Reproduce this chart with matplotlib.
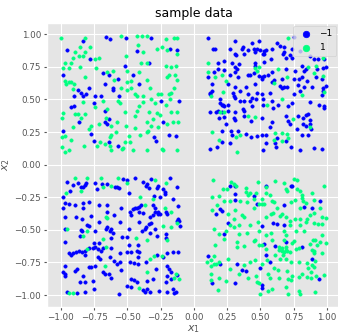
import numpy as np
import matplotlib
matplotlib.use("Agg")
import matplotlib.pyplot as plt

# points, grouped by quadrant and by label
# label -1 (blue) / label 1 (green)
tl_neg = [(-0.83, 0.95), (-0.66, 0.98), (-0.63, 0.96), (-0.51, 0.97), (-0.32, 0.97),
          (-0.95, 0.88), (-0.43, 0.87), (-0.18, 0.885), (-0.125, 0.88), (-0.78, 0.81),
          (-0.335, 0.78), (-0.52, 0.76), (-0.985, 0.69), (-0.68, 0.70), (-0.635, 0.69),
          (-0.57, 0.66), (-0.46, 0.69), (-0.67, 0.62), (-0.415, 0.62), (-0.87, 0.57),
          (-0.785, 0.59), (-0.85, 0.55), (-0.90, 0.53), (-0.81, 0.54), (-0.835, 0.53),
          (-0.74, 0.53), (-0.70, 0.53), (-0.605, 0.59), (-0.61, 0.57), (-0.56, 0.53),
          (-0.75, 0.47), (-0.25, 0.49), (-0.11, 0.49), (-0.925, 0.44), (-0.90, 0.45),
          (-0.86, 0.33), (-0.665, 0.41), (-0.67, 0.33), (-0.635, 0.35), (-0.65, 0.31),
          (-0.235, 0.33), (-0.985, 0.255), (-0.775, 0.235), (-0.30, 0.21), (-0.285, 0.18),
          (-0.185, 0.23), (-0.135, 0.22), (-0.75, 0.185), (-0.64, 0.175), (-0.57, 0.145)]
tl_pos = [(-1.0, 0.97), (-0.82, 0.97), (-0.545, 0.99), (-0.43, 0.99), (-0.39, 0.99),
          (-0.35, 0.99), (-0.21, 0.96), (-0.15, 0.97), (-0.125, 0.97), (-0.89, 0.86),
          (-0.855, 0.90), (-0.82, 0.86), (-0.78, 0.905), (-0.835, 0.83), (-0.42, 0.92),
          (-0.38, 0.86), (-0.51, 0.83), (-0.275, 0.89), (-0.24, 0.90), (-0.205, 0.88),
          (-0.13, 0.85), (-0.97, 0.78), (-0.98, 0.74), (-0.94, 0.74), (-0.92, 0.78),
          (-0.905, 0.82), (-0.86, 0.83), (-0.855, 0.75), (-0.74, 0.81), (-0.71, 0.82),
          (-0.735, 0.74), (-0.40, 0.78), (-0.355, 0.78), (-0.505, 0.72), (-0.21, 0.76),
          (-0.17, 0.75), (-0.135, 0.76), (-0.82, 0.67), (-0.61, 0.72), (-0.655, 0.71),
          (-0.41, 0.71), (-0.205, 0.67), (-0.19, 0.69), (-0.14, 0.69), (-0.125, 0.65),
          (-0.97, 0.64), (-0.96, 0.615), (-0.935, 0.63), (-0.92, 0.63), (-0.90, 0.62),
          (-0.60, 0.65), (-0.505, 0.63), (-0.47, 0.64), (-0.355, 0.65), (-0.905, 0.58),
          (-0.55, 0.585), (-0.505, 0.57), (-0.47, 0.585), (-0.44, 0.54), (-0.43, 0.53),
          (-0.33, 0.59), (-0.38, 0.53), (-0.27, 0.54), (-0.25, 0.54), (-0.19, 0.54),
          (-0.15, 0.59), (-0.175, 0.55), (-0.83, 0.48), (-0.555, 0.47), (-0.57, 0.49),
          (-0.41, 0.45), (-0.32, 0.50), (-0.29, 0.47), (-0.21, 0.46), (-0.18, 0.50),
          (-0.38, 0.48), (-0.68, 0.49), (-0.89, 0.39), (-0.87, 0.385), (-0.85, 0.36),
          (-0.82, 0.39), (-0.98, 0.395), (-0.74, 0.44), (-0.655, 0.43), (-0.66, 0.36),
          (-0.575, 0.33), (-0.52, 0.405), (-0.43, 0.415), (-0.44, 0.37), (-0.34, 0.405),
          (-0.28, 0.395), (-0.31, 0.35), (-0.355, 0.33), (-0.205, 0.31), (-0.155, 0.33),
          (-0.12, 0.33), (-0.255, 0.38), (-0.17, 0.40), (-0.13, 0.40), (-0.99, 0.355),
          (-0.905, 0.29), (-0.77, 0.295), (-0.785, 0.275), (-0.71, 0.31), (-0.62, 0.295),
          (-0.51, 0.295), (-0.44, 0.28), (-0.355, 0.25), (-0.27, 0.29), (-0.32, 0.295),
          (-0.99, 0.21), (-0.97, 0.22), (-0.625, 0.23), (-0.585, 0.25), (-0.63, 0.21),
          (-0.49, 0.22), (-0.405, 0.23), (-0.345, 0.255), (-0.925, 0.19), (-0.705, 0.17),
          (-0.67, 0.16), (-0.48, 0.17), (-0.52, 0.175), (-0.825, 0.14), (-0.725, 0.14),
          (-0.99, 0.135), (-0.97, 0.10), (-0.94, 0.11), (-0.63, 0.145), (-0.54, 0.12),
          (-0.62, 0.115), (-0.455, 0.115), (-0.35, 0.11), (-0.24, 0.12), (-0.235, 0.11),
          (-0.13, 0.11), (-0.53, 0.13)]

tr_neg = [(0.11, 0.97), (0.31, 0.95), (0.44, 0.93), (0.49, 0.95), (0.625, 0.935),
          (0.645, 0.91), (0.68, 0.905), (0.75, 0.98), (0.74, 0.89), (0.80, 0.87),
          (0.145, 0.885), (0.16, 0.89), (0.275, 0.89), (0.36, 0.885), (0.37, 0.90),
          (0.41, 0.88), (0.45, 0.885), (0.475, 0.89), (0.50, 0.88), (0.525, 0.87),
          (0.54, 0.88), (0.53, 0.85), (0.59, 0.89), (0.68, 0.86), (0.69, 0.82),
          (0.74, 0.82), (0.87, 0.83), (0.90, 0.81), (0.93, 0.81), (0.975, 0.81),
          (0.31, 0.85), (0.32, 0.84), (0.46, 0.86), (0.38, 0.85), (0.58, 0.81),
          (0.67, 0.845), (0.72, 0.84), (0.52, 0.85), (0.18, 0.78), (0.23, 0.795),
          (0.29, 0.78), (0.34, 0.775), (0.46, 0.78), (0.46, 0.76), (0.53, 0.79),
          (0.81, 0.76), (0.97, 0.74), (0.99, 0.75), (0.15, 0.71), (0.18, 0.73),
          (0.225, 0.725), (0.31, 0.75), (0.325, 0.73), (0.31, 0.71), (0.45, 0.70),
          (0.59, 0.71), (0.69, 0.73), (0.76, 0.72), (0.83, 0.72), (0.925, 0.73),
          (0.84, 0.735), (0.105, 0.675), (0.275, 0.69), (0.33, 0.67), (0.405, 0.69),
          (0.425, 0.69), (0.49, 0.68), (0.51, 0.67), (0.53, 0.68), (0.51, 0.66),
          (0.56, 0.69), (0.60, 0.65), (0.66, 0.66), (0.75, 0.655), (0.79, 0.66),
          (0.81, 0.67), (0.85, 0.645), (0.92, 0.67), (0.96, 0.655), (0.14, 0.62),
          (0.26, 0.615), (0.31, 0.595), (0.395, 0.595), (0.46, 0.615), (0.59, 0.63),
          (0.65, 0.60), (0.66, 0.59), (0.68, 0.595), (0.70, 0.595), (0.78, 0.61),
          (0.83, 0.595), (0.89, 0.595), (0.97, 0.59), (0.99, 0.60), (0.125, 0.55),
          (0.14, 0.565), (0.12, 0.54), (0.295, 0.55), (0.345, 0.565), (0.41, 0.54),
          (0.475, 0.55), (0.51, 0.54), (0.575, 0.55), (0.75, 0.545), (0.795, 0.565),
          (0.97, 0.565), (0.96, 0.535), (0.195, 0.50), (0.30, 0.525), (0.31, 0.51),
          (0.26, 0.46), (0.35, 0.49), (0.38, 0.49), (0.44, 0.51), (0.47, 0.50),
          (0.52, 0.50), (0.59, 0.49), (0.74, 0.475), (0.87, 0.48), (0.42, 0.49),
          (0.20, 0.475), (0.21, 0.455), (0.22, 0.46), (0.225, 0.45), (0.18, 0.415),
          (0.21, 0.40), (0.17, 0.405), (0.12, 0.405), (0.26, 0.415), (0.31, 0.405),
          (0.37, 0.43), (0.44, 0.45), (0.52, 0.46), (0.63, 0.455), (0.71, 0.45),
          (0.595, 0.435), (0.375, 0.415), (0.94, 0.455), (0.98, 0.45), (0.98, 0.435),
          (0.225, 0.365), (0.19, 0.355), (0.24, 0.31), (0.30, 0.36), (0.31, 0.345),
          (0.375, 0.37), (0.43, 0.335), (0.51, 0.355), (0.59, 0.33), (0.69, 0.37),
          (0.71, 0.335), (0.72, 0.315), (0.78, 0.37), (0.82, 0.36), (0.84, 0.38),
          (0.86, 0.385), (0.82, 0.31), (0.87, 0.345), (0.875, 0.315), (0.845, 0.30),
          (0.21, 0.26), (0.28, 0.26), (0.29, 0.23), (0.33, 0.255), (0.395, 0.235),
          (0.43, 0.21), (0.475, 0.22), (0.51, 0.23), (0.545, 0.225), (0.57, 0.285),
          (0.625, 0.205), (0.775, 0.275), (0.81, 0.225), (0.86, 0.225), (0.88, 0.27),
          (0.21, 0.175), (0.27, 0.165), (0.545, 0.165), (0.61, 0.165), (0.695, 0.18),
          (0.12, 0.12), (0.175, 0.135), (0.52, 0.11), (0.62, 0.135), (0.73, 0.135),
          (0.80, 0.115), (0.90, 0.13), (0.96, 0.12)]
tr_pos = [(0.71, 0.97), (0.97, 0.82), (0.11, 0.78), (0.92, 0.76), (0.86, 0.75),
          (0.11, 0.71), (0.46, 0.74), (0.49, 0.75), (0.475, 0.72), (0.63, 0.73),
          (0.90, 0.705), (0.16, 0.675), (0.21, 0.69), (0.70, 0.67), (0.97, 0.68),
          (0.245, 0.64), (0.60, 0.625), (0.13, 0.53), (0.22, 0.555), (0.81, 0.535),
          (0.98, 0.555), (0.66, 0.50), (0.195, 0.40), (0.23, 0.405), (0.55, 0.455),
          (0.41, 0.375), (0.46, 0.365), (0.745, 0.35), (0.87, 0.29), (0.14, 0.25),
          (0.61, 0.245), (0.66, 0.245), (0.705, 0.205), (0.19, 0.19), (0.32, 0.21),
          (0.345, 0.225), (0.60, 0.19), (0.66, 0.18), (0.70, 0.235), (0.325, 0.10)]

bl_neg = [(-0.535, -0.11), (-0.505, -0.115), (-0.44, -0.10), (-0.32, -0.11), (-0.18, -0.10),
          (-0.95, -0.13), (-0.91, -0.155), (-0.87, -0.14), (-0.85, -0.17), (-0.83, -0.17),
          (-0.82, -0.155), (-0.81, -0.14), (-0.74, -0.14), (-0.59, -0.17), (-0.575, -0.175),
          (-0.56, -0.18), (-0.655, -0.145), (-0.73, -0.185), (-0.69, -0.145), (-0.38, -0.135),
          (-0.36, -0.16), (-0.35, -0.145), (-0.335, -0.18), (-0.28, -0.18), (-0.27, -0.16),
          (-0.23, -0.19), (-0.22, -0.21), (-0.13, -0.17), (-0.93, -0.20), (-0.49, -0.22),
          (-0.30, -0.24), (-0.255, -0.25), (-0.22, -0.225), (-0.985, -0.25), (-0.97, -0.295),
          (-0.98, -0.33), (-0.94, -0.30), (-0.89, -0.31), (-0.835, -0.295), (-0.79, -0.29),
          (-0.71, -0.31), (-0.65, -0.31), (-0.55, -0.33), (-0.455, -0.34), (-0.44, -0.33),
          (-0.43, -0.335), (-0.41, -0.325), (-0.40, -0.31), (-0.31, -0.31), (-0.29, -0.335),
          (-0.27, -0.36), (-0.27, -0.38), (-0.21, -0.36), (-0.155, -0.26), (-0.12, -0.32),
          (-0.83, -0.335), (-0.77, -0.39), (-0.97, -0.405), (-0.885, -0.405), (-0.84, -0.42),
          (-0.655, -0.365), (-0.60, -0.385), (-0.47, -0.385), (-0.48, -0.36), (-0.41, -0.36),
          (-0.38, -0.37), (-0.33, -0.405), (-0.305, -0.385), (-0.29, -0.365), (-0.255, -0.38),
          (-0.20, -0.38), (-0.12, -0.415), (-0.11, -0.43), (-0.13, -0.435), (-0.805, -0.46),
          (-0.79, -0.47), (-0.71, -0.44), (-0.555, -0.44), (-0.41, -0.44), (-0.36, -0.475),
          (-0.335, -0.455), (-0.325, -0.445), (-0.105, -0.47), (-0.97, -0.49), (-0.85, -0.50),
          (-0.84, -0.51), (-0.74, -0.51), (-0.66, -0.49), (-0.65, -0.48), (-0.625, -0.49),
          (-0.63, -0.51), (-0.49, -0.495), (-0.39, -0.51), (-0.37, -0.49), (-0.33, -0.525),
          (-0.29, -0.49), (-0.21, -0.53), (-0.855, -0.55), (-0.605, -0.525), (-0.54, -0.555),
          (-0.505, -0.555), (-0.28, -0.55), (-0.21, -0.56), (-0.97, -0.59), (-0.75, -0.60),
          (-0.71, -0.60), (-0.62, -0.565), (-0.485, -0.615), (-0.42, -0.615), (-0.785, -0.64),
          (-0.76, -0.64), (-0.74, -0.635), (-0.72, -0.645), (-0.68, -0.64), (-0.62, -0.64),
          (-0.70, -0.66), (-0.86, -0.66), (-0.84, -0.67), (-0.82, -0.66), (-0.82, -0.69),
          (-0.905, -0.68), (-0.935, -0.68), (-0.92, -0.69), (-0.885, -0.67), (-0.72, -0.705),
          (-0.705, -0.72), (-0.63, -0.71), (-0.50, -0.67), (-0.47, -0.67), (-0.43, -0.66),
          (-0.41, -0.67), (-0.42, -0.705), (-0.28, -0.69), (-0.23, -0.705), (-0.20, -0.68),
          (-0.16, -0.67), (-0.12, -0.67), (-0.555, -0.68), (-0.97, -0.78), (-0.98, -0.82),
          (-0.97, -0.835), (-0.97, -0.855), (-0.89, -0.815), (-0.88, -0.80), (-0.83, -0.855),
          (-0.785, -0.785), (-0.77, -0.785), (-0.74, -0.78), (-0.685, -0.825), (-0.67, -0.835),
          (-0.64, -0.835), (-0.60, -0.74), (-0.58, -0.76), (-0.555, -0.75), (-0.55, -0.81),
          (-0.48, -0.745), (-0.45, -0.755), (-0.42, -0.765), (-0.36, -0.75), (-0.285, -0.80),
          (-0.205, -0.78), (-0.19, -0.80), (-0.17, -0.82), (-0.13, -0.845), (-0.20, -0.85),
          (-0.17, -0.88), (-0.21, -0.90), (-0.855, -0.90), (-0.82, -0.90), (-0.755, -0.89),
          (-0.62, -0.87), (-0.47, -0.88), (-0.45, -0.885), (-0.425, -0.90), (-0.35, -0.89),
          (-0.31, -0.88), (-0.955, -0.98), (-0.88, -0.985), (-0.82, -0.98), (-0.75, -0.95),
          (-0.56, -0.99), (-0.50, -0.93), (-0.47, -0.935), (-0.385, -0.96), (-0.37, -0.975),
          (-0.355, -0.955), (-0.33, -0.98), (-0.26, -0.97), (-0.20, -0.98), (-0.155, -0.955),
          (-0.15, -0.985), (-0.135, -0.98)]
bl_pos = [(-0.89, -0.10), (-0.805, -0.10), (-0.70, -0.10), (-0.57, -0.10), (-0.29, -0.12),
          (-0.21, -0.14), (-0.50, -0.14), (-0.68, -0.175), (-0.625, -0.16), (-0.96, -0.22),
          (-0.85, -0.205), (-0.405, -0.25), (-0.305, -0.265), (-0.37, -0.31), (-0.22, -0.33),
          (-0.17, -0.36), (-0.66, -0.40), (-0.65, -0.41), (-0.235, -0.47), (-0.17, -0.48),
          (-0.125, -0.45), (-0.955, -0.495), (-0.805, -0.51), (-0.835, -0.545), (-0.435, -0.565),
          (-0.35, -0.575), (-0.205, -0.58), (-0.68, -0.57), (-0.805, -0.645), (-0.66, -0.635),
          (-0.30, -0.70), (-0.33, -0.72), (-0.24, -0.70), (-0.67, -0.775), (-0.355, -0.82),
          (-0.135, -0.835), (-0.11, -0.875), (-0.15, -0.87), (-0.935, -0.985), (-0.905, -0.985),
          (-0.41, -0.945)]

br_neg = [(0.275, -0.16), (0.31, -0.165), (0.54, -0.165), (0.73, -0.165), (0.74, -0.16),
          (0.31, -0.225), (0.45, -0.24), (0.31, -0.27), (0.475, -0.30), (0.68, -0.31),
          (0.83, -0.325), (0.89, -0.335), (0.95, -0.275), (0.20, -0.34), (0.21, -0.355),
          (0.17, -0.38), (0.26, -0.45), (0.51, -0.47), (0.595, -0.45), (0.625, -0.455),
          (0.675, -0.465), (0.23, -0.535), (0.53, -0.61), (0.61, -0.625), (0.69, -0.595),
          (0.81, -0.63), (0.11, -0.70), (0.195, -0.76), (0.325, -0.76), (0.54, -0.69),
          (0.57, -0.75), (0.89, -0.725), (0.36, -0.81), (0.395, -0.815), (0.50, -0.795),
          (0.94, -0.875), (0.14, -0.91), (0.31, -0.91), (0.51, -0.92), (0.51, -0.945)]
br_pos = [(0.145, -0.115), (0.28, -0.135), (0.30, -0.15), (0.32, -0.16), (0.48, -0.135),
          (0.54, -0.175), (0.61, -0.125), (0.675, -0.14), (0.75, -0.11), (0.775, -0.115),
          (0.775, -0.185), (0.80, -0.20), (0.81, -0.23), (0.89, -0.22), (0.90, -0.27),
          (0.975, -0.16), (0.22, -0.185), (0.25, -0.19), (0.39, -0.18), (0.395, -0.21),
          (0.405, -0.235), (0.425, -0.22), (0.47, -0.22), (0.45, -0.265), (0.54, -0.22),
          (0.51, -0.26), (0.575, -0.23), (0.59, -0.275), (0.60, -0.29), (0.69, -0.185),
          (0.70, -0.205), (0.76, -0.27), (0.81, -0.255), (0.82, -0.275), (0.84, -0.295),
          (0.14, -0.25), (0.19, -0.24), (0.23, -0.28), (0.275, -0.28), (0.35, -0.28),
          (0.40, -0.285), (0.49, -0.30), (0.51, -0.30), (0.53, -0.30), (0.625, -0.33),
          (0.73, -0.285), (0.80, -0.335), (0.95, -0.335), (0.14, -0.345), (0.175, -0.31),
          (0.26, -0.38), (0.31, -0.345), (0.36, -0.385), (0.375, -0.405), (0.30, -0.415),
          (0.45, -0.335), (0.545, -0.40), (0.58, -0.38), (0.595, -0.37), (0.66, -0.38),
          (0.65, -0.39), (0.695, -0.405), (0.76, -0.415), (0.80, -0.415), (0.85, -0.415),
          (0.875, -0.385), (0.90, -0.37), (0.96, -0.40), (0.995, -0.41), (0.30, -0.475),
          (0.34, -0.465), (0.275, -0.46), (0.425, -0.465), (0.48, -0.44), (0.72, -0.43),
          (0.725, -0.46), (0.80, -0.46), (0.84, -0.44), (0.90, -0.45), (0.93, -0.455),
          (0.96, -0.455), (0.15, -0.495), (0.19, -0.535), (0.34, -0.535), (0.40, -0.525),
          (0.49, -0.51), (0.54, -0.54), (0.58, -0.525), (0.68, -0.51), (0.69, -0.54),
          (0.77, -0.51), (0.83, -0.51), (0.96, -0.54), (0.245, -0.51), (0.225, -0.57),
          (0.325, -0.595), (0.38, -0.62), (0.45, -0.585), (0.46, -0.575), (0.49, -0.615),
          (0.51, -0.615), (0.59, -0.575), (0.64, -0.63), (0.68, -0.575), (0.695, -0.63),
          (0.75, -0.585), (0.74, -0.60), (0.875, -0.61), (0.895, -0.575), (0.91, -0.575),
          (0.95, -0.59), (0.995, -0.60), (0.16, -0.615), (0.325, -0.63), (0.54, -0.645),
          (0.64, -0.655), (0.66, -0.64), (0.66, -0.66), (0.675, -0.67), (0.69, -0.655),
          (0.70, -0.66), (0.67, -0.69), (0.725, -0.67), (0.77, -0.65), (0.79, -0.64),
          (0.89, -0.655), (0.90, -0.66), (0.90, -0.68), (0.925, -0.615), (0.96, -0.68),
          (0.155, -0.70), (0.10, -0.745), (0.13, -0.73), (0.15, -0.76), (0.17, -0.76),
          (0.19, -0.75), (0.13, -0.775), (0.26, -0.725), (0.38, -0.77), (0.42, -0.745),
          (0.46, -0.73), (0.51, -0.765), (0.55, -0.73), (0.61, -0.69), (0.645, -0.72),
          (0.69, -0.725), (0.73, -0.75), (0.79, -0.745), (0.85, -0.755), (0.91, -0.74),
          (0.86, -0.795), (0.89, -0.77), (0.905, -0.785), (0.275, -0.80), (0.34, -0.835),
          (0.60, -0.795), (0.63, -0.81), (0.70, -0.815), (0.74, -0.85), (0.81, -0.84),
          (0.88, -0.825), (0.92, -0.85), (0.98, -0.845), (0.13, -0.84), (0.13, -0.885),
          (0.19, -0.87), (0.24, -0.89), (0.41, -0.87), (0.47, -0.85), (0.475, -0.90),
          (0.49, -0.91), (0.56, -0.835), (0.57, -0.87), (0.59, -0.95), (0.64, -0.87),
          (0.69, -0.935), (0.71, -0.88), (0.73, -0.885), (0.79, -0.865), (0.85, -0.865),
          (0.88, -0.87), (0.18, -0.96), (0.50, -0.99), (0.56, -0.97), (0.71, -0.99),
          (0.79, -0.97), (0.80, -0.99), (0.91, -0.98)]

labels = [-1, 1]
label_text = ['\u22121', '1']

neg = np.array(tl_neg + tr_neg + bl_neg + br_neg)
pos = np.array(tl_pos + tr_pos + bl_pos + br_pos)

plt.style.use('ggplot')

fig = plt.figure(figsize=(3.38, 3.35), dpi=100)
ax = fig.add_axes([0.1405, 0.0845, 0.864, 0.848])

cmap = plt.get_cmap('winter')
for pts, lab, txt in zip([neg, pos], labels, label_text):
    col = cmap(0.0 if lab < 0 else 1.0)
    ax.scatter(pts[:, 0], pts[:, 1], s=5.5, color=col, label=txt, zorder=3)

ax.set_title('sample data', fontsize=9, pad=4)
ax.set_xlabel('$x_1$', fontsize=8, labelpad=1)
ax.set_ylabel('$x_2$', fontsize=8, labelpad=2)
ax.tick_params(labelsize=6.3, length=2.5, pad=2)
ax.grid(color='white', linewidth=0.8)
ax.legend(loc='upper right', fontsize=6.5, markerscale=2.0,
          borderaxespad=0.35, handletextpad=0.5, labelspacing=0.55)

fig.savefig('out.png', dpi=100)
